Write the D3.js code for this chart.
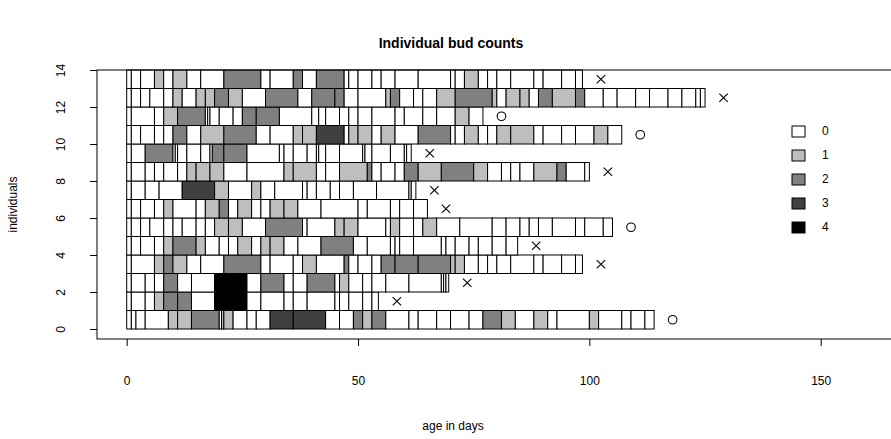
<!DOCTYPE html>
<html>
<head>
<meta charset="utf-8">
<script src="https://cdn.jsdelivr.net/npm/d3@7"></script>
<style>
  body { margin: 0; background: #fff; }
  svg text { font-family: "Liberation Sans", Arial, sans-serif; fill: #000; }
</style>
</head>
<body>
<div id="chart"></div>
<script>
// observation days per individual (row 0 at bottom) and bud count in each interval
const obsDays = [
  [0,1,2,4,9,11,14,20,20.5,21,23,26,28,31,36,43,46,49,51,53,56,61,63,67,70,74,77,81,84,88,91,93,100,102,107,109,112,114],
  [0,1,4,6,8,11,14,19,26,29,34,36,39,45,46,48,51,53,54.4],
  [0,1,4,6,8,11,14,19,26,29,34,36,39,45,46,48,51,53,56,61,68,68.5,69,69.6],
  [0,1,6,8,10,13,16,21,29,31,36,38,41,47,48,50,53,55,58,63,70,71,73,76,78,80,83,88,90,94,97,98.5],
  [0,1,3,6,8,10,15,17,20,22,24,27,29,31,34,37,42,49,52,57,58,59,62,68,69,71,74,76,79,82,84.5],
  [0,1,3,5,8,10,12,15,17,19,22,25,30,38,39,45,47,50,56,57,59,62,64,67,72,79,82,85,87,89,92,97,99,103,105],
  [0,1,3,6,8,10,15,17,20,22,24,27,29,31,34,37,42,50,52,57,59,62,65],
  [0,1,4,7,12,19,22,27,29,32,38,39,41,44,46,49,54,61,61.5,62.5],
  [0,1,4,6,8,11,13,15,18,21,26,34,36,41,43,46,52,53,55,58,60,63,68,75,78,81,83,85,88,93,95,99,100],
  [0,1,4,10,10.5,11,13,16,18,18.5,21,26,33,34,36,39,41,41.5,43,46,51,51.5,53,57,60,60.5,61.5],
  [0,1,3,6,8,10,13,16,21,28,31,36,38,41,47,48,50,53,55,58,63,70,71,73,76,78,80,83,88,90,94,97,101,104,107],
  [0,1,6,8,11,17,17.5,18,20,23,25,28,33,40,41.5,43,46,48,50,53,58,60,64,67,71,74,77],
  [0,1,3,5,8,10,12,15,17,19,22,25,30,37,40,45,47,50,56,57,59,62,64,67,71,79,80,82,85,87,89,92,97,99,103,106,110,113,117,120,123,124,125],
  [0,1,3,6,8,10,13,16,21,29,31,36,38,41,47,48,50,53,55,58,63,70,71,73,76,78,80,83,88,90,94,97,98.5]
];

const budCounts = [
  [0,0,0,0,1,1,2,0,1,1,0,0,0,3,3,0,0,2,1,2,0,0,0,0,0,0,2,1,0,1,0,0,1,0,0,0,0],
  [0,0,0,1,2,2,0,4,0,0,0,0,0,0,0,0,0,0],
  [0,0,0,0,2,0,0,4,0,2,0,0,2,0,1,0,0,0,0,0,0,0,0],
  [0,0,1,2,1,0,0,2,0,0,0,1,0,2,0,0,0,2,2,2,1,1,0,0,0,0,0,0,0,0,0],
  [0,0,0,0,1,2,1,0,0,0,1,0,1,1,0,0,2,0,0,0,0,0,0,0,0,0,0,0,0,0],
  [0,0,0,0,0,0,0,0,0,1,1,0,2,0,0,1,1,0,0,1,0,0,1,0,0,0,0,0,0,0,0,0,0,0],
  [0,0,0,0,1,0,0,1,2,0,1,0,0,1,1,0,0,0,0,0,0,0],
  [0,0,0,0,3,1,0,1,0,0,0,0,0,0,0,0,0,0,0],
  [0,0,0,0,0,0,1,1,1,0,0,1,1,0,0,1,2,0,0,0,2,1,2,1,0,0,0,0,1,2,0,0],
  [0,0,2,0,0,0,0,0,0,2,2,0,0,0,0,0,0,0,0,0,0,0,0,0,0,0],
  [0,0,0,0,0,2,0,1,2,0,0,1,1,3,0,1,1,0,1,0,2,0,0,1,0,0,1,1,0,0,0,0,1,0],
  [0,0,0,1,2,0,0,0,0,0,2,2,0,0,0,0,0,0,0,0,0,0,0,0,1,0],
  [0,0,0,0,0,1,0,1,1,2,1,0,2,0,2,2,0,0,1,2,0,0,0,1,2,1,0,1,1,0,2,1,2,0,0,0,0,0,0,0,0,0],
  [0,0,0,1,0,1,0,0,2,0,0,2,0,2,0,0,0,0,0,0,0,0,0,1,0,0,0,0,0,0,0,0]
];

// x = died, o = still alive at end of study
const endStatus = ['o','x','x','x','x','o','x','x','x','x','o','o','x','x'];
const markerGap = 4; // days between last observation and end symbol

const countLevels = [0,1,2,3,4];
const countColors = ['#ffffff','#bebebe','#808080','#404040','#000000'];
const xTicks = [0,50,100,150];
const yTicks = [0,2,4,6,8,10,12,14];

const width = 891;
const height = 439;
// plot region runs past the right edge of the picture
const box = {left:97, right:897, top:70, bottom:339};

const svg = d3.select('div#chart').append('svg').attr('width',width).attr('height',height);

const x = d3.scaleLinear().domain([0,150]).range([126.7,820.7]);
const y = d3.scaleLinear().domain([0,14]).range([329,70]);
const fill = d3.scaleOrdinal().domain(countLevels).range(countColors);

// cells
const rows = svg.append('g').attr('class','rows');
obsDays.forEach((days, i) => {
    const cells = d3.range(days.length-1).map(k => ({from:days[k], to:days[k+1], n:budCounts[i][k]}));
    rows.append('g').selectAll('rect').data(cells).enter()
        .append('rect')
        .attr('x', d => x(d.from))
        .attr('y', y(i+1))
        .attr('width', d => x(d.to)-x(d.from))
        .attr('height', y(i)-y(i+1))
        .attr('fill', d => fill(d.n))
        .attr('stroke','#000')
        .attr('stroke-width',1);
});

// end symbols
const ends = obsDays.map((days,i) => ({row:i, day:days[days.length-1]+markerGap, s:endStatus[i]}));
const sym = svg.append('g').attr('class','symbols');
sym.selectAll('path.cross').data(ends.filter(d => d.s==='x')).enter()
    .append('path').attr('class','cross')
    .attr('d', d => {
        const cx = x(d.day), cy = y(d.row+0.5), r = 4.2;
        return `M${cx-r},${cy-r}L${cx+r},${cy+r}M${cx-r},${cy+r}L${cx+r},${cy-r}`;
    })
    .attr('stroke','#000').attr('stroke-width',1.1).attr('fill','none');
sym.selectAll('circle').data(ends.filter(d => d.s==='o')).enter()
    .append('circle')
    .attr('cx', d => x(d.day)).attr('cy', d => y(d.row+0.5)).attr('r',4.3)
    .attr('stroke','#000').attr('stroke-width',1.1).attr('fill','none');

// frame
svg.append('rect')
    .attr('x',box.left).attr('y',box.top)
    .attr('width',box.right-box.left).attr('height',box.bottom-box.top)
    .attr('fill','none').attr('stroke','#000').attr('stroke-width',1);

// axes
const xAxis = d3.axisBottom(x).tickValues(xTicks).tickSize(7).tickPadding(30);
const xAxisGroup = svg.append('g').attr('transform',`translate(0,${box.bottom})`).call(xAxis);
xAxisGroup.select('.domain').remove();
xAxisGroup.selectAll('text').attr('font-size',12).attr('font-family','Liberation Sans, Arial, sans-serif');

const yAxis = d3.axisLeft(y).tickValues(yTicks).tickSize(7).tickFormat(d3.format('d'));
const yAxisGroup = svg.append('g').attr('transform',`translate(${box.left},0)`).call(yAxis);
yAxisGroup.select('.domain').remove();
yAxisGroup.selectAll('text')
    .attr('font-size',12).attr('font-family','Liberation Sans, Arial, sans-serif')
    .attr('x',null).attr('dy',null)
    .attr('text-anchor','middle')
    .attr('transform','translate(-35,0) rotate(-90)')
    .attr('dominant-baseline','middle');

// titles
svg.append('text').attr('x',451).attr('y',48)
    .attr('text-anchor','middle').attr('font-size',14).attr('font-weight','bold')
    .text('Individual bud counts');
svg.append('text').attr('x',453).attr('y',430)
    .attr('text-anchor','middle').attr('font-size',12)
    .text('age in days');
svg.append('text').attr('transform',`translate(17,${(box.top+box.bottom)/2}) rotate(-90)`)
    .attr('text-anchor','middle').attr('font-size',12)
    .text('individuals');

// legend
const legend = svg.append('g').attr('class','legend').attr('transform','translate(792,126)');
const items = legend.selectAll('g').data(countLevels).enter().append('g')
    .attr('transform',(d,i) => `translate(0,${i*24})`);
items.append('rect').attr('width',13).attr('height',11)
    .attr('fill', d => fill(d)).attr('stroke','#000').attr('stroke-width',1);
items.append('text').attr('x',30).attr('y',6).attr('dominant-baseline','middle')
    .attr('font-size',12).text(d => d);
</script>
</body>
</html>
